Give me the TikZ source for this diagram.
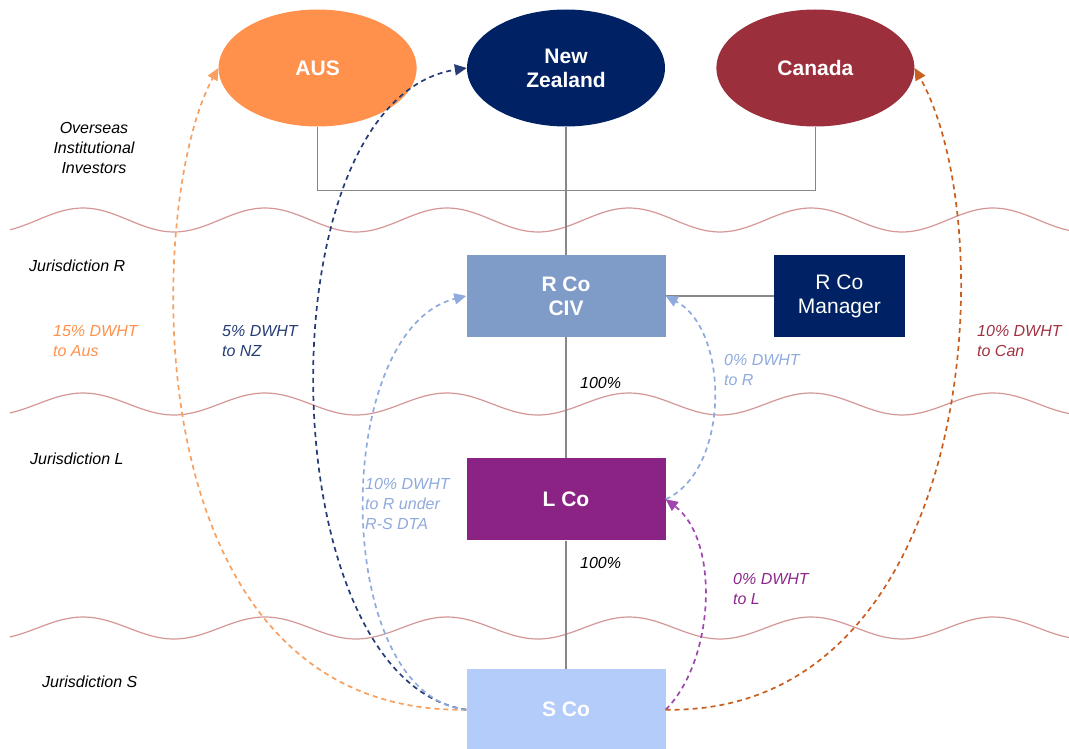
\documentclass[tikz,border=0pt]{standalone}
\usepackage{fontspec}
\setmainfont{Liberation Sans}
\usetikzlibrary{arrows.meta,positioning,shapes.geometric}

\definecolor{ausfill}{RGB}{255,145,77}
\definecolor{nzfill}{RGB}{0,34,100}
\definecolor{canfill}{RGB}{155,47,59}
\definecolor{civfill}{RGB}{127,155,200}
\definecolor{lcofill}{RGB}{139,35,132}
\definecolor{scofill}{RGB}{180,204,250}
\definecolor{ausline}{RGB}{248,160,95}
\definecolor{nzline}{RGB}{38,60,118}
\definecolor{rline}{RGB}{143,170,220}
\definecolor{lline}{RGB}{160,70,175}
\definecolor{canline}{RGB}{200,95,30}
\definecolor{cantext}{RGB}{160,50,65}
\definecolor{ltext}{RGB}{140,40,140}
\definecolor{wavered}{RGB}{212,150,150}
\definecolor{linegray}{RGB}{135,135,135}

\begin{document}
\begin{tikzpicture}[
  x=1pt, y=-1pt,
  node distance=128pt and 50pt,
  country/.style={ellipse, minimum width=198pt, minimum height=117pt, inner sep=0pt, align=center, text=white, font=\fontsize{21}{24}\selectfont\bfseries},
  entity/.style={rectangle, minimum width=199pt, minimum height=82pt, inner sep=0pt, align=center, text=white, font=\fontsize{21}{24}\selectfont\bfseries},
  note/.style={inner sep=0pt, align=left, anchor=west, font=\fontsize{16}{20}\selectfont\itshape},
  link/.style={draw=linegray, line width=1.2pt},
  flow/.style={-{Triangle[length=12pt,width=11pt]}, dash pattern=on 5pt off 4pt, line width=1.7pt},
  border/.style={draw=wavered, line width=1.2pt}
]
\useasboundingbox (0,0) rectangle (1069,749);

% Jurisdiction borders
\draw[border] plot[domain=10:1069, samples=240] (\x, {220-12*cos((\x-265)/182*360)});
\draw[border] plot[domain=10:1069, samples=240] (\x, {404-11*cos((\x-265)/182*360)});
\draw[border] plot[domain=10:1069, samples=240] (\x, {628-11*cos((\x-265)/182*360)});

% Investors
\node[country, fill=nzfill] at (566,68) (nz) {New\\Zealand};
\node[country, fill=ausfill, left=of nz] (aus) {AUS};
\node[country, fill=canfill, right=51pt of nz] (canada) {Canada};

% Companies
\node[entity, fill=civfill, below=of nz] (rco) {R Co\\CIV};
\node[entity, fill=nzfill, minimum width=131pt, right=108pt of rco, font=\fontsize{21}{24}\selectfont] (mgr) {R Co\\Manager};
\node[entity, fill=lcofill, below=121pt of rco] (lco) {L Co};
\node[entity, fill=scofill, below=of lco] (sco) {S Co};

\draw[link] (aus.south) -- ++(0,64) -| (canada.south);
\draw[link] (nz.south) -- (rco.north);
\draw[link] (rco.east) -- (mgr.west);
\draw[link] (rco.south) -- (lco.north);
\draw[link] (lco.south) -- (sco.north);

% Jurisdiction names
\node[note, anchor=center, align=center] at (94,148) (overseas) {Overseas\\Institutional\\Investors};
\node[note] at (29,266) (jurr) {Jurisdiction R};
\node[note] at (30,459) (jurl) {Jurisdiction L};
\node[note] at (42,682) (jurs) {Jurisdiction S};

% Holdings
\node[note] at (580,383) (holdl) {100\%};
\node[note] at (580,563) (holds) {100\%};

% Dividend flows
\draw[flow, draw=ausline] (sco.west) .. controls (128,715) and (145,200) .. (aus.west);
\draw[flow, draw=nzline] (sco.west) .. controls (268,680) and (260,100) .. (nz.west);
\draw[flow, draw=rline] (sco.west) .. controls (330,695) and (330,330) .. (rco.west);
\draw[flow, draw=rline] (lco.east) .. controls (730,470) and (730,330) .. (rco.east);
\draw[flow, draw=lline] (sco.east) .. controls (715,660) and (720,540) .. (lco.east);
\draw[flow, draw=canline] (sco.east) .. controls (975,715) and (1005,230) .. (canada.east);

% Rates
\node[note, text=ausfill] at (53,341) (ratea) {15\% DWHT\\to Aus};
\node[note, text=nzline] at (222,341) (raten) {5\% DWHT\\to NZ};
\node[note, text=rline] at (365,504) (raters) {10\% DWHT\\to R under\\R-S DTA};
\node[note, text=rline] at (724,370) (raterl) {0\% DWHT\\to R};
\node[note, text=cantext] at (977,341) (ratec) {10\% DWHT\\to Can};
\node[note, text=ltext] at (733,589) (ratel) {0\% DWHT\\to L};

\end{tikzpicture}
\end{document}
